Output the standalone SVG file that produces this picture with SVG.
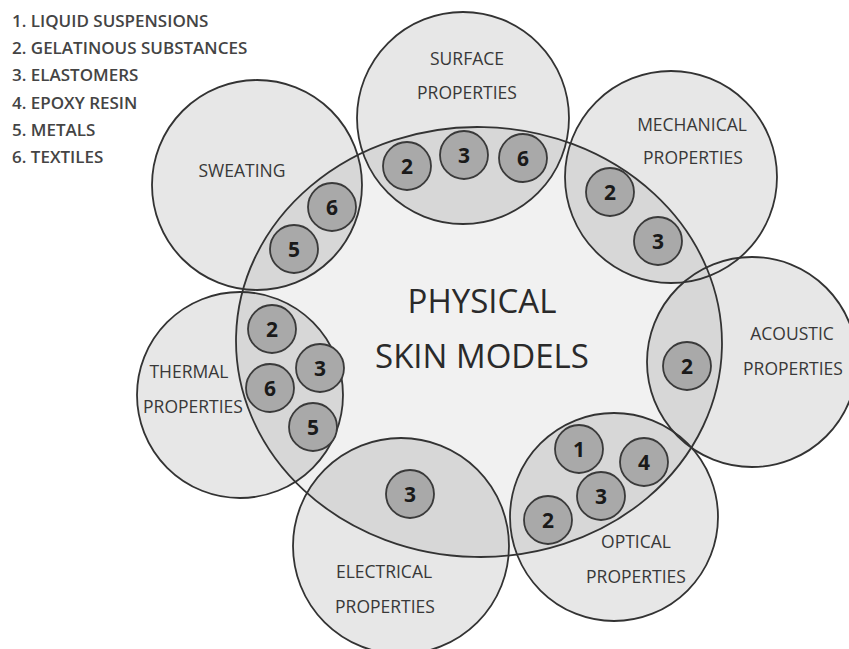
<svg xmlns="http://www.w3.org/2000/svg" width="849" height="649" viewBox="0 0 849 649">
<style>
.bg{fill:#e7e7e7;stroke:none}
.lens{fill:#d7d7d7;stroke:none}
.ol{fill:none;stroke:#333;stroke-width:1.8}
.num circle{fill:#a9a9a9;stroke:#3a3a3a;stroke-width:1.8}
.num text{font-family:"Open Sans","DejaVu Sans",sans-serif;font-weight:700;font-size:21px;fill:#1a1a1a;text-anchor:middle}
.lbl{font-family:"Open Sans","DejaVu Sans",sans-serif;font-size:17.5px;fill:#383838;text-anchor:middle}
.leg{font-family:"Open Sans","DejaVu Sans",sans-serif;font-weight:600;font-size:17px;fill:#444}
.big{font-family:"Open Sans","DejaVu Sans",sans-serif;font-size:33px;fill:#2a2a2a;text-anchor:middle}
</style>
<defs>
<clipPath id="ellClip"><ellipse cx="479" cy="342" rx="243" ry="215" transform="rotate(1.3 479 342)"/></clipPath>
</defs>
<rect width="849" height="649" fill="#fff"/>

<g id="legend">
<text class="leg" x="12" y="26.5">1. LIQUID SUSPENSIONS</text>
<text class="leg" x="12" y="54">2. GELATINOUS SUBSTANCES</text>
<text class="leg" x="12" y="81">3. ELASTOMERS</text>
<text class="leg" x="12" y="108.5">4. EPOXY RESIN</text>
<text class="leg" x="12" y="136">5. METALS</text>
<text class="leg" x="12" y="163">6. TEXTILES</text>
</g>

<g id="fills">
<ellipse cx="479" cy="342" rx="243" ry="215" transform="rotate(1.3 479 342)" fill="#f1f1f1"/>
<circle class="bg" cx="463" cy="118" r="106"/>
<circle class="bg" cx="257" cy="185" r="105"/>
<circle class="bg" cx="671" cy="177" r="106"/>
<circle class="bg" cx="752" cy="362" r="105"/>
<circle class="bg" cx="614" cy="517" r="104"/>
<circle class="bg" cx="401" cy="546" r="108"/>
<circle class="bg" cx="240" cy="395" r="103"/>
<g clip-path="url(#ellClip)">
<circle class="lens" cx="463" cy="118" r="106"/>
<circle class="lens" cx="257" cy="185" r="105"/>
<circle class="lens" cx="671" cy="177" r="106"/>
<circle class="lens" cx="752" cy="362" r="105"/>
<circle class="lens" cx="614" cy="517" r="104"/>
<circle class="lens" cx="401" cy="546" r="108"/>
<circle class="lens" cx="240" cy="395" r="103"/>
</g>
</g>

<g id="node-center">
<ellipse class="ol" cx="479" cy="342" rx="243" ry="215" transform="rotate(1.3 479 342)"/>
<text class="big" x="482" y="313">PHYSICAL</text>
<text class="big" x="482" y="368">SKIN MODELS</text>
</g>

<g id="node-surface">
<circle class="ol" cx="463" cy="118" r="106"/>
<text class="lbl" x="467" y="65">SURFACE</text>
<text class="lbl" x="467" y="99">PROPERTIES</text>
<g class="num"><circle cx="407" cy="166" r="24"/><text x="407" y="173.5">2</text></g>
<g class="num"><circle cx="464" cy="155" r="24"/><text x="464" y="162.5">3</text></g>
<g class="num"><circle cx="523" cy="158" r="24"/><text x="523" y="165.5">6</text></g>
</g>

<g id="node-sweating">
<circle class="ol" cx="257" cy="185" r="105"/>
<text class="lbl" x="242" y="177">SWEATING</text>
<g class="num"><circle cx="332" cy="207" r="24"/><text x="332" y="214.5">6</text></g>
<g class="num"><circle cx="294" cy="249" r="24"/><text x="294" y="256.5">5</text></g>
</g>

<g id="node-mechanical">
<circle class="ol" cx="671" cy="177" r="106"/>
<text class="lbl" x="692" y="131">MECHANICAL</text>
<text class="lbl" x="693" y="164">PROPERTIES</text>
<g class="num"><circle cx="610" cy="192" r="24"/><text x="610" y="199.5">2</text></g>
<g class="num"><circle cx="658" cy="241" r="24"/><text x="658" y="248.5">3</text></g>
</g>

<g id="node-acoustic">
<circle class="ol" cx="752" cy="362" r="105"/>
<text class="lbl" x="792" y="340">ACOUSTIC</text>
<text class="lbl" x="793" y="375">PROPERTIES</text>
<g class="num"><circle cx="687" cy="366" r="24"/><text x="687" y="373.5">2</text></g>
</g>

<g id="node-optical">
<circle class="ol" cx="614" cy="517" r="104"/>
<text class="lbl" x="636" y="548">OPTICAL</text>
<text class="lbl" x="636" y="583">PROPERTIES</text>
<g class="num"><circle cx="579" cy="449" r="24"/><text x="579" y="456.5">1</text></g>
<g class="num"><circle cx="644" cy="462" r="24"/><text x="644" y="469.5">4</text></g>
<g class="num"><circle cx="601" cy="496" r="24"/><text x="601" y="503.5">3</text></g>
<g class="num"><circle cx="548" cy="520" r="24"/><text x="548" y="527.5">2</text></g>
</g>

<g id="node-electrical">
<circle class="ol" cx="401" cy="546" r="108"/>
<text class="lbl" x="384" y="578">ELECTRICAL</text>
<text class="lbl" x="385" y="613">PROPERTIES</text>
<g class="num"><circle cx="410" cy="494" r="24"/><text x="410" y="501.5">3</text></g>
</g>

<g id="node-thermal">
<circle class="ol" cx="240" cy="395" r="103"/>
<text class="lbl" x="189" y="378">THERMAL</text>
<text class="lbl" x="193" y="413">PROPERTIES</text>
<g class="num"><circle cx="272" cy="329" r="24"/><text x="272" y="336.5">2</text></g>
<g class="num"><circle cx="320" cy="368" r="24"/><text x="320" y="375.5">3</text></g>
<g class="num"><circle cx="270" cy="388" r="24"/><text x="270" y="395.5">6</text></g>
<g class="num"><circle cx="313" cy="427" r="24"/><text x="313" y="434.5">5</text></g>
</g>

<g id="connectors"></g>
</svg>
